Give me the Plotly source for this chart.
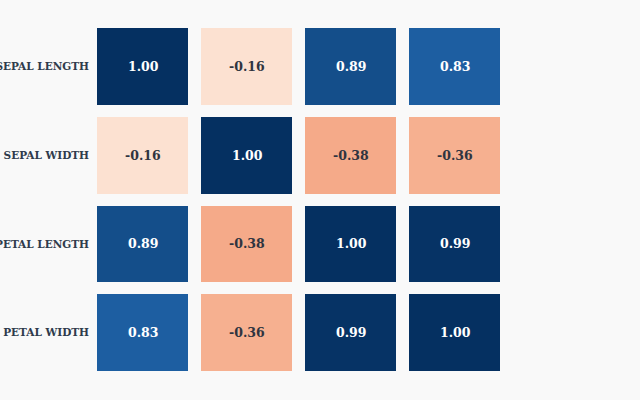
import plotly.graph_objects as go

features = ["SEPAL LENGTH", "SEPAL WIDTH", "PETAL LENGTH", "PETAL WIDTH"]
corr = [
    [1.00, -0.16, 0.89, 0.83],
    [-0.16, 1.00, -0.38, -0.36],
    [0.89, -0.38, 1.00, 0.99],
    [0.83, -0.36, 0.99, 1.00],
]

fig = go.Figure()
fig.add_trace(go.Heatmap(
    z=corr, x=features, y=features,
    colorscale="RdBu", zmin=-1, zmax=1,
    xgap=13, ygap=12, showscale=False,
    hoverinfo="skip",
))

for i, row in enumerate(corr):
    for j, v in enumerate(row):
        fig.add_annotation(
            x=features[j], y=features[i], text=f"{v:.2f}", showarrow=False,
            font=dict(family="DejaVu Serif", size=12.5, weight="bold",
                      color="#ffffff" if abs(v) > 0.5 else "#2f3440"),
        )

fig.update_layout(
    width=640, height=400,
    margin=dict(l=91, r=133, t=22, b=23),
    paper_bgcolor="#f9f9f9", plot_bgcolor="#f9f9f9",
    font=dict(family="DejaVu Serif", color="#2f3b4c"),
    xaxis=dict(showticklabels=False, showgrid=False, zeroline=False, ticks=""),
    yaxis=dict(autorange="reversed", showgrid=False, zeroline=False, ticks="",
               automargin=False, ticklabelstandoff=1,
               tickfont=dict(size=10.5, family="DejaVu Serif", weight="bold",
                             color="#2f3b4c")),
)
fig.write_html("out.html", config={"displayModeBar": False},
               post_script="document.body.style.margin='0';")
